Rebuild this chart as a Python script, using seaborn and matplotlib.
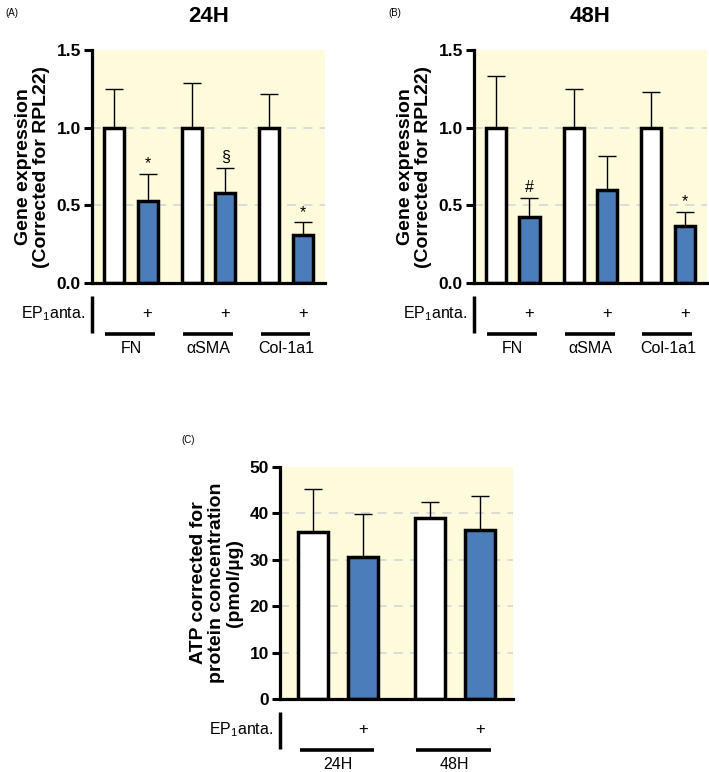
import pandas as pd
import seaborn as sns
import matplotlib.pyplot as plt

# ---- data ----
genes = ["FN", "αSMA", "Col-1a1"]

ctrl_24 = [1.0, 1.0, 1.0]
ctrl_24_err = [0.25, 0.29, 0.22]
ep1_24 = [0.53, 0.58, 0.31]
ep1_24_err = [0.17, 0.16, 0.08]
sig_24 = ["*", "§", "*"]

ctrl_48 = [1.0, 1.0, 1.0]
ctrl_48_err = [0.335, 0.25, 0.23]
ep1_48 = [0.425, 0.60, 0.365]
ep1_48_err = [0.125, 0.22, 0.093]
sig_48 = ["#", "", "*"]

times = ["24H", "48H"]
atp_ctrl = [35.9, 38.9]
atp_ctrl_err = [9.3, 3.5]
atp_ep1 = [30.5, 36.3]
atp_ep1_err = [9.4, 7.4]

treatments = ["ctrl", "EP1 anta."]
palette = ["#FFFFFF", "#4A7DBA"]
bg = "#FDFBDC"

sns.set_style("ticks")
plt.rcParams["font.family"] = ["Liberation Sans", "DejaVu Sans"]
plt.rcParams["mathtext.fontset"] = "custom"
plt.rcParams["mathtext.rm"] = "Liberation Sans"
for k in ["text.color", "axes.labelcolor", "xtick.color", "ytick.color", "axes.edgecolor"]:
    plt.rcParams[k] = "black"


def draw_panel(ax, groups, ctrl, ctrl_err, ep1, ep1_err, sig, ylim, yticks,
               grid_levels, tick_fmt, ylabel, sig_offset):
    df = pd.DataFrame({
        "group": groups * 2,
        "treatment": [treatments[0]] * len(groups) + [treatments[1]] * len(groups),
        "value": list(ctrl) + list(ep1),
    })
    ax.set_facecolor(bg)
    for lvl in grid_levels:
        ax.axhline(lvl, color="#d8d8d8", lw=1.3, ls=(0, (5, 4)), zorder=0.5)
    sns.barplot(data=df, x="group", y="value", hue="treatment", order=groups,
                hue_order=treatments, palette=palette, saturation=1,
                edgecolor="black", linewidth=2.5, width=0.86, gap=0.4,
                errorbar=None, legend=False, ax=ax, zorder=2)

    # error bars (upper only) and significance marks
    for cont, vals, errs in zip(ax.containers, [ctrl, ep1], [ctrl_err, ep1_err]):
        xs = [p.get_x() + p.get_width() / 2 for p in cont.patches]
        eb = ax.errorbar(xs, vals, yerr=[[0] * len(vals), errs], fmt="none",
                         ecolor="black", elinewidth=1.0, capsize=6.8, capthick=1.0,
                         zorder=1.5)
        eb[1][0].set_visible(False)  # hide the lower caps
    blue_x = [p.get_x() + p.get_width() / 2 for p in ax.containers[1].patches]
    for x, v, e, s in zip(blue_x, ep1, ep1_err, sig):
        if s:
            ax.annotate(s, (x, v + e), xytext=(0, sig_offset), textcoords="offset points",
                        ha="center", va="bottom", fontsize=11.5)

    ax.set_xlim(-0.5, len(groups) - 0.5)
    ax.set_ylim(*ylim)
    ax.set_yticks(yticks)
    ax.set_yticklabels([tick_fmt.format(t) for t in yticks], fontweight="bold", fontsize=12.5)
    ax.tick_params(axis="y", length=6, width=2.2, pad=2)
    ax.tick_params(axis="x", length=0, labelbottom=False)
    ax.set_xlabel("")
    ax.set_ylabel(ylabel, fontweight="bold", fontsize=14, labelpad=5, linespacing=1.05)
    sns.despine(ax=ax)
    ax.spines["left"].set_linewidth(2.3)
    ax.spines["bottom"].set_linewidth(2.3)

    # treatment table below the axis
    ax.text(-0.03, -0.13, "EP$_\\mathregular{1}$anta.", transform=ax.transAxes,
            ha="right", va="center", fontsize=11.5)
    ax.plot([0, 0], [-0.055, -0.215], transform=ax.transAxes, color="black",
            lw=2.5, clip_on=False, solid_capstyle="butt")
    xt = ax.get_xaxis_transform()
    for i, (g, x) in enumerate(zip(groups, blue_x)):
        ax.text(x, -0.13, "+", transform=xt, ha="center", va="center", fontsize=12)
        ax.plot([i - 0.33, i + 0.31], [-0.217, -0.217], transform=xt, color="black",
                lw=2.6, clip_on=False, solid_capstyle="butt")
        ax.text(i, -0.28, g, transform=xt, ha="center", va="center", fontsize=11.5)


fig = plt.figure(figsize=(7.09, 7.72), dpi=100)
axA = fig.add_axes([0.1298, 0.6334, 0.3286, 0.3018])
axB = fig.add_axes([0.6685, 0.6334, 0.3286, 0.3018])
axC = fig.add_axes([0.3949, 0.0942, 0.3287, 0.3013])

gene_label = "Gene expression\n(Corrected for RPL22)"
draw_panel(axA, genes, ctrl_24, ctrl_24_err, ep1_24, ep1_24_err, sig_24,
           (0, 1.5), [0, 0.5, 1.0, 1.5], [0.5, 1.0], "{:.1f}", gene_label, 2)
draw_panel(axB, genes, ctrl_48, ctrl_48_err, ep1_48, ep1_48_err, sig_48,
           (0, 1.5), [0, 0.5, 1.0, 1.5], [0.5, 1.0], "{:.1f}", gene_label, 2)
draw_panel(axC, times, atp_ctrl, atp_ctrl_err, atp_ep1, atp_ep1_err, ["", ""],
           (0, 50), [0, 10, 20, 30, 40, 50], [10, 20, 30, 40], "{:.0f}",
           "ATP corrected for\nprotein concentration\n(pmol/µg)", 2)

axA.set_title("24H", fontweight="bold", fontsize=16, pad=20)
axB.set_title("48H", fontweight="bold", fontsize=16, pad=20)

fig.text(5 / 709, 1 - 13 / 772, "(A)", fontsize=7, va="center", ha="left")
fig.text(388 / 709, 1 - 13 / 772, "(B)", fontsize=7, va="center", ha="left")
fig.text(181 / 709, 1 - 440 / 772, "(C)", fontsize=7, va="center", ha="left")

fig.savefig("out.png", dpi=100)
